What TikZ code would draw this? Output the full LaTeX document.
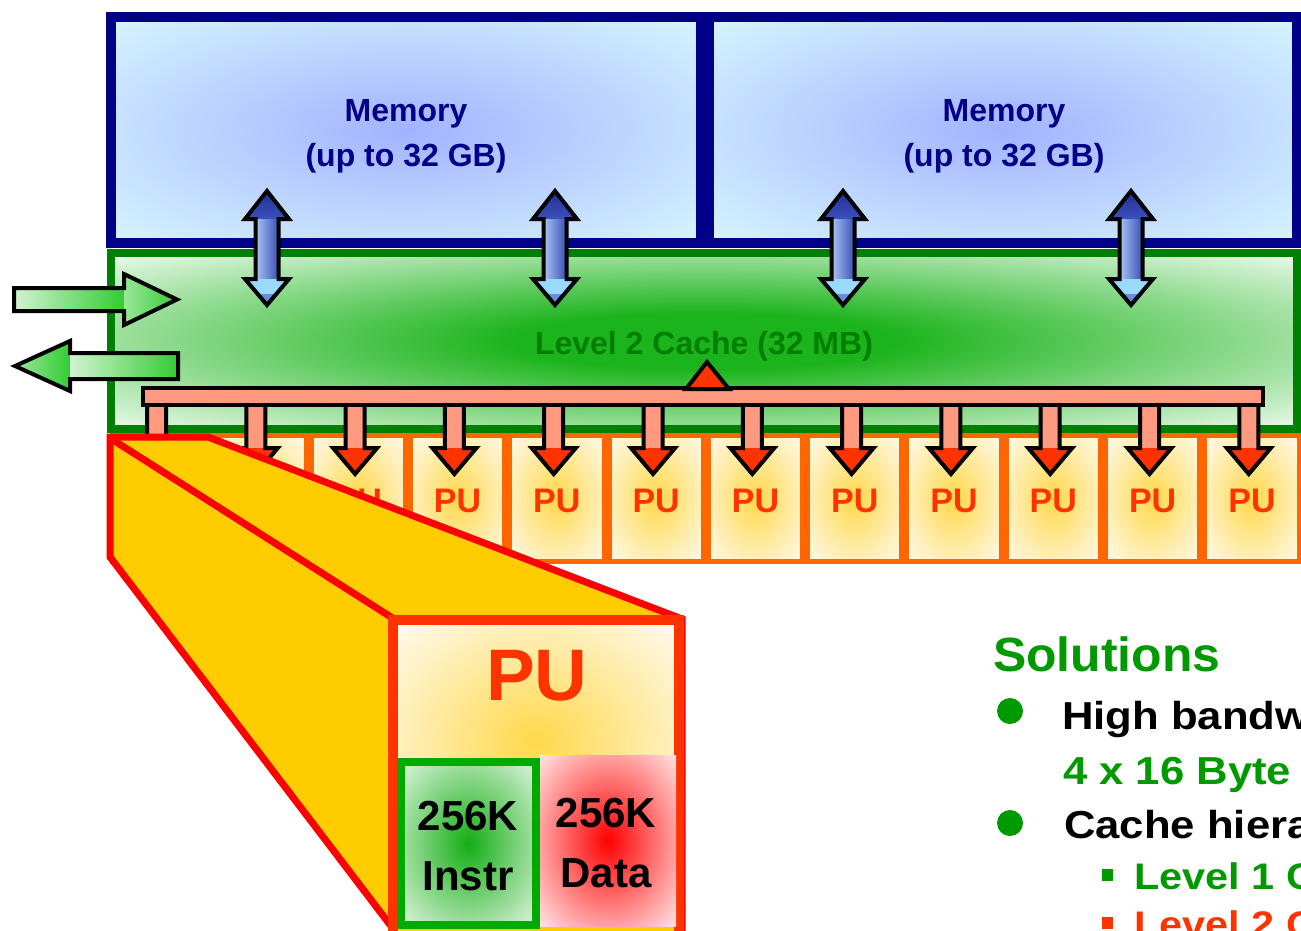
\documentclass[tikz,border=0pt]{standalone}
\usepackage{graphicx}
\usepackage{fontspec}
\setmainfont{Liberation Sans}

% palette
\definecolor{memline}{HTML}{000088}
\definecolor{memin}{HTML}{A2B3FF}
\definecolor{memout}{HTML}{D8F6FF}
\definecolor{cacheline}{HTML}{008000}
\definecolor{cachein}{HTML}{1CB41C}
\definecolor{cacheout}{HTML}{F2FCF2}
\definecolor{cachetext}{HTML}{007F00}
\definecolor{puline}{HTML}{FF6600}
\definecolor{puin}{HTML}{FFD84A}
\definecolor{puout}{HTML}{FFF9E8}
\definecolor{pured}{HTML}{FF3300}
\definecolor{salmon}{HTML}{FF9980}
\definecolor{coneyellow}{HTML}{FFCC00}
\definecolor{conered}{HTML}{FF0000}
\definecolor{instrline}{HTML}{00AA00}
\definecolor{instrin}{HTML}{14AE14}
\definecolor{instrout}{HTML}{E4F6E4}
\definecolor{datain}{HTML}{FF0000}
\definecolor{dataout}{HTML}{FFE8E8}
\definecolor{solgreen}{HTML}{009900}
\definecolor{dupA}{HTML}{22309A}
\definecolor{dupB}{HTML}{3B50BA}
\definecolor{dupC}{HTML}{A8C6F8}
\definecolor{dupD}{HTML}{5A7ED2}
\definecolor{dupE}{HTML}{3A4FB0}
\definecolor{dupF}{HTML}{9ADAFF}
\definecolor{dupG}{HTML}{6A8BDD}
\definecolor{grpale}{HTML}{D2F3D2}
\definecolor{grmid}{HTML}{9BE69B}
\definecolor{grbright}{HTML}{33CC33}

% soft centre-out glows
\pgfdeclareradialshading{memglow}{\pgfpoint{0bp}{0bp}}{color(0bp)=(memin); color(36bp)=(memout); color(50bp)=(memout)}
\pgfdeclareradialshading{cacheglow}{\pgfpoint{0bp}{0bp}}{color(0bp)=(cachein); color(8bp)=(cachein); color(36bp)=(cacheout); color(50bp)=(cacheout)}
\pgfdeclareradialshading{puglow}{\pgfpoint{0bp}{0bp}}{color(0bp)=(puin); color(34bp)=(puout); color(50bp)=(puout)}
\pgfdeclareradialshading{instrglow}{\pgfpoint{0bp}{0bp}}{color(0bp)=(instrin); color(36bp)=(instrout); color(50bp)=(instrout)}
\pgfdeclareradialshading{dataglow}{\pgfpoint{0bp}{0bp}}{color(0bp)=(datain); color(36bp)=(dataout); color(50bp)=(dataout)}

\newcommand\pxb[1]{\fontsize{#1pt}{#1pt}\selectfont\bfseries}
\newcommand\wide[2]{\scalebox{#1}[1]{#2}}

\begin{document}
\begin{tikzpicture}[x=1pt,y=-1pt,
  outl/.style={draw=black,line width=4pt},
  txt/.style={inner sep=0pt,outer sep=0pt,anchor=base},
  ltxt/.style={inner sep=0pt,outer sep=0pt,anchor=base west},
  duplex/.pic={
    \fill[top color=dupA,bottom color=dupB] (-22,219) -- (0,191) -- (22,219) -- cycle;
    \fill[left color=dupC,middle color=dupD,right color=dupE] (-11.5,219) rectangle (11.5,279);
    \fill[dupF] (-22,279) -- (22,279) -- (0,305) -- cycle;
    \fill[dupG] (-9,294) -- (9,294) -- (0,305) -- cycle;
    \draw[outl] (0,191) -- (22,219) -- (11.5,219) -- (11.5,279) -- (22,279) -- (0,305)
      -- (-22,279) -- (-11.5,279) -- (-11.5,219) -- (-22,219) -- cycle;
  },
  drop/.pic={
    \fill[salmon] (-9.5,404) rectangle (9.5,448);
    \fill[pured] (-22,448) -- (22,448) -- (0,474) -- cycle;
    \draw[outl] (-9.5,404) -- (-9.5,448) -- (-22,448) -- (0,474) -- (22,448) -- (9.5,448) -- (9.5,404);
  }
]
\useasboundingbox (0,0) rectangle (1301,930);
\clip (0,0) rectangle (1301,930);

% memory banks
\shadedraw[shading=memglow,draw=memline,line width=10pt] (110.5,16.5) rectangle (700.5,243);
\shadedraw[shading=memglow,draw=memline,line width=10pt] (709,16.5) rectangle (1297,243);
\node[txt,font=\pxb{32},text=memline] (mema) at (406,121) {Memory};
\node[txt,font=\pxb{32},text=memline] (memasize) at (406,166) {(up to 32 GB)};
\node[txt,font=\pxb{32},text=memline] (memb) at (1004,121) {Memory};
\node[txt,font=\pxb{32},text=memline] (membsize) at (1004,166) {(up to 32 GB)};

% level 2 cache
\shadedraw[shading=cacheglow,draw=cacheline,line width=8pt] (111,253) rectangle (1297,429);
\node[txt,font=\pxb{32},text=cachetext] (ltwo) at (704,354.5) {Level 2 Cache (32 MB)};

% memory <-> cache links
\foreach \cx in {267,555,843,1131} \pic at (\cx,0) {duplex};

% row of processing units
\foreach \i in {0,...,11}{
  \pgfmathsetmacro\lx{110+99.3*\i}
  \shadedraw[shading=puglow,draw=puline,line width=5pt] (\lx+2.5,435.5) rectangle (\lx+96.8,561.5);
  \node[txt,font=\pxb{34},text=pured] (pu\i) at (\lx+49.65,512) {PU};
}

% bus with drops to every PU
\foreach \i in {0,...,11} \pic at (156.5+99.3*\i,0) {drop};
\filldraw[fill=salmon,outl] (143,388) rectangle (1263,405);
\filldraw[fill=pured,outl] (686,389) -- (707,362) -- (729,389) -- cycle;

% magnified PU
\filldraw[fill=coneyellow,draw=conered,line width=7pt]
  (110,437) -- (208,437) -- (682,619) -- (682,950) -- (394,950) -- (394,930) -- (110,557) -- cycle;
\draw[conered,line width=7pt] (113,440) -- (394,619);
\shade[shading=puglow] (396,624) rectangle (676,860);
\draw[pured,line width=10pt] (393,620) rectangle (679,950);
\node[txt,font=\pxb{73},text=pured] (bigpu) at (537,700) {PU};

\shade[shading=instrglow] (401,762) rectangle (536,925);
\draw[instrline,line width=8pt] (401,762) rectangle (536,925);
\shade[shading=dataglow] (540,755) rectangle (676,926);
\node[txt,font=\pxb{42}] (instrsize) at (468,830) {256K};
\node[txt,font=\pxb{42}] (instr) at (468,890) {Instr};
\node[txt,font=\pxb{42}] (datasize) at (606,827) {256K};
\node[txt,font=\pxb{42}] (data) at (606,887) {Data};

% external ports
\fill[left color=grpale,right color=grbright] (14,288) rectangle (124,311);
\fill[left color=grmid,right color=grbright] (124,274) -- (177,299.5) -- (124,325) -- cycle;
\draw[outl] (14,288) -- (124,288) -- (124,274) -- (177,299.5) -- (124,325) -- (124,311) -- (14,311) -- cycle;
\fill[left color=grmid,right color=grbright] (15,366) -- (70,341) -- (70,391) -- cycle;
\fill[left color=grpale,right color=grbright] (70,353) rectangle (178,379);
\draw[outl] (15,366) -- (70,341) -- (70,353) -- (178,353) -- (178,379) -- (70,379) -- (70,391) -- cycle;

% solutions list
\node[ltxt,font=\pxb{48},text=solgreen] (sol) at (993,671) {\wide{1.04}{Solutions}};
\fill[solgreen] (1010,711) circle (13pt);
\node[ltxt,font=\pxb{39}] (hbw) at (1062,729) {\wide{1.12}{High bandw}};
\node[ltxt,font=\pxb{39},text=solgreen] (bytes) at (1063,784) {\wide{1.12}{4 x 16 Byte}};
\fill[solgreen] (1010,823) circle (13pt);
\node[ltxt,font=\pxb{39}] (hier) at (1064,838) {\wide{1.12}{Cache hiera}};
\fill[solgreen] (1102,869) rectangle (1113,881);
\node[ltxt,font=\pxb{37},text=solgreen] (lone) at (1134,889) {\wide{1.12}{Level 1 C}};
\fill[pured] (1102,917) rectangle (1113,929);
\node[ltxt,font=\pxb{37},text=pured] (ltwoc) at (1134,937) {\wide{1.12}{Level 2 C}};
\end{tikzpicture}
\end{document}
